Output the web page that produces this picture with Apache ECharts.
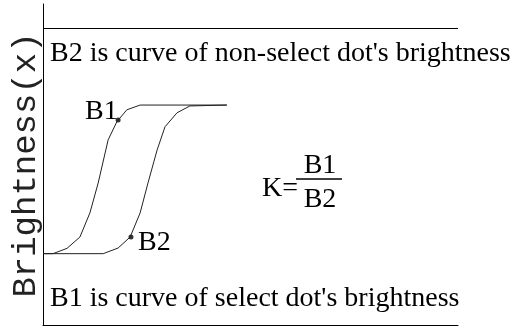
<!DOCTYPE html>
<html>
<head>
  <meta charset="utf-8">
  <script src="https://cdn.jsdelivr.net/npm/echarts@6/dist/echarts.min.js"></script>
  <style>
    html, body { margin: 0; padding: 0; background: #fff; }
    #main { width: 526px; height: 327px; }
  </style>
</head>
<body>
<div id="main"></div>
<script>
  // curve points (x: 0-100 across the box, y: 0-100 up to the top line)
  const b1X = [0, 2.4, 5.8, 8.9, 11.3, 13.3, 15.7, 17.8, 20.2, 23.4, 44.3]
  const b1Y = [24, 24, 25.8, 29.6, 37.7, 47.8, 62.3, 68.4, 72.4, 74, 74]
  const b2X = [0, 14.5, 18.1, 21, 23.4, 25.3, 27.5, 29.4, 32.3, 35.4, 44.3]
  const b2Y = [24, 24, 25.9, 29.6, 37.7, 47.8, 58.9, 66.7, 71.4, 73.7, 74]
  // the two marked dots (B1 on the left curve, B2 on the right one)
  const dotX = [18.1, 21.2]
  const dotY = [69, 29.6]
  const topLine = 100

  const zip = (xs, ys) => xs.map((x, i) => [x, ys[i]])
  const serif = 'Liberation Serif'

  let chart = echarts.init(document.getElementById('main'))

  let option = {
    animation: false,
    grid: { left: 43, right: 68, top: 4, bottom: 2 },
    xAxis: {
      type: 'value',
      min: 0,
      max: 100,
      axisLine: { lineStyle: { color: '#000', width: 1 } },
      axisTick: { show: false },
      axisLabel: { show: false },
      splitLine: { show: false }
    },
    yAxis: {
      type: 'value',
      min: 0,
      max: 108,
      axisLine: { show: true, lineStyle: { color: '#000', width: 1 } },
      axisTick: { show: false },
      axisLabel: { show: false },
      splitLine: { show: false }
    },
    series: [
      {
        name: 'B1',
        type: 'line',
        data: zip(b1X, b1Y),
        symbol: 'none',
        lineStyle: { color: '#222', width: 1 },
        markLine: {
          silent: true,
          symbol: 'none',
          label: { show: false },
          lineStyle: { color: '#000', width: 1, type: 'solid' },
          data: [{ yAxis: topLine }]
        }
      },
      {
        name: 'B2',
        type: 'line',
        data: zip(b2X, b2Y),
        symbol: 'none',
        lineStyle: { color: '#222', width: 1 }
      },
      {
        name: 'dots',
        type: 'scatter',
        data: zip(dotX, dotY),
        symbol: 'circle',
        symbolSize: 5,
        itemStyle: { color: '#000' }
      }
    ],
    graphic: [
      {
        type: 'text', x: 26, y: 165, rotation: Math.PI / 2,
        style: { text: 'Brightness(x)', font: '34px "Liberation Mono"', fill: '#222', align: 'center', verticalAlign: 'middle' }
      },
      {
        type: 'text', x: 50, y: 54,
        style: { text: "B2 is curve of non-select dot's brightness", font: '28px "' + serif + '"', fill: '#000', verticalAlign: 'middle' }
      },
      {
        type: 'text', x: 50, y: 299,
        style: { text: "B1 is curve of select dot's brightness", font: '28px "' + serif + '"', fill: '#000', verticalAlign: 'middle' }
      },
      {
        type: 'text', x: 85, y: 112,
        style: { text: 'B1', font: '28px "' + serif + '"', fill: '#000', verticalAlign: 'middle' }
      },
      {
        type: 'text', x: 138, y: 243,
        style: { text: 'B2', font: '28px "' + serif + '"', fill: '#000', verticalAlign: 'middle' }
      },
      {
        type: 'text', x: 262, y: 189,
        style: { text: 'K=', font: '28px "' + serif + '"', fill: '#000', verticalAlign: 'middle' }
      },
      {
        type: 'line', shape: { x1: 296, y1: 179, x2: 342, y2: 179 },
        style: { stroke: '#000', lineWidth: 1.5 }
      },
      {
        type: 'text', x: 320, y: 166,
        style: { text: 'B1', font: '28px "' + serif + '"', fill: '#000', align: 'center', verticalAlign: 'middle' }
      },
      {
        type: 'text', x: 320, y: 200,
        style: { text: 'B2', font: '28px "' + serif + '"', fill: '#000', align: 'center', verticalAlign: 'middle' }
      }
    ]
  }

  chart.setOption(option)
</script>
</body>
</html>
